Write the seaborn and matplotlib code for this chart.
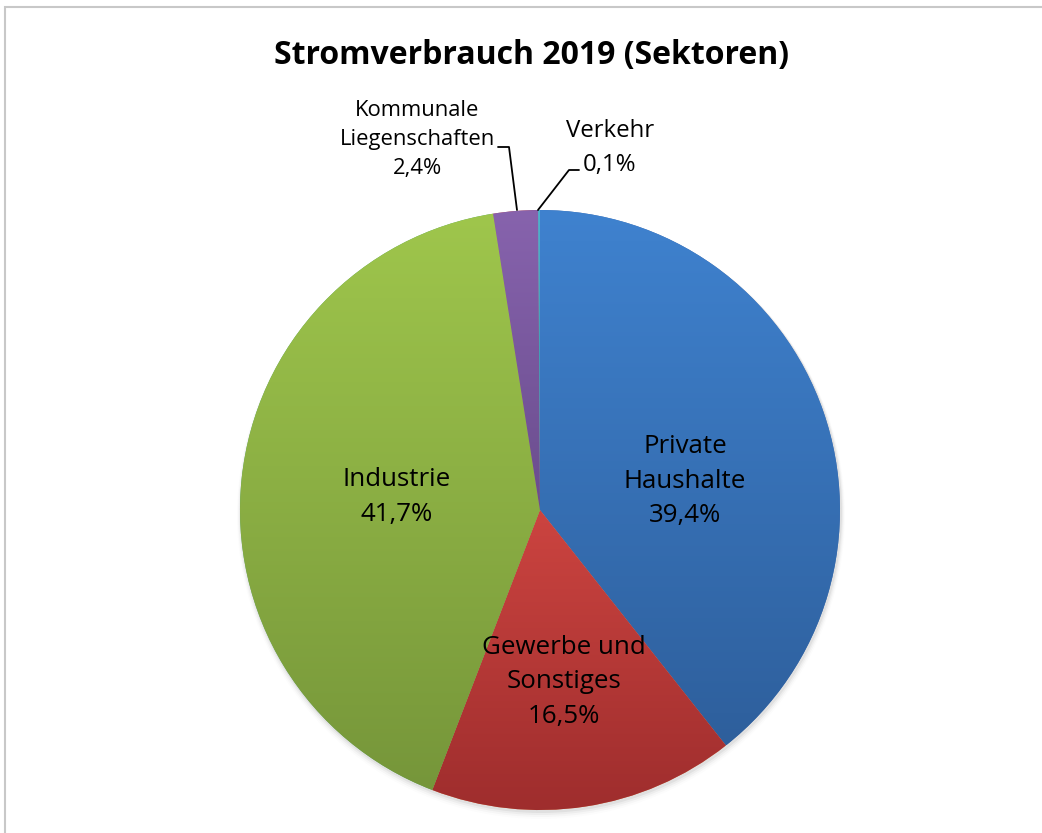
import numpy as np
import matplotlib
matplotlib.use("Agg")
import matplotlib.pyplot as plt
import matplotlib.colors as mcolors
from matplotlib.patches import Rectangle
import seaborn as sns

# ---- data ----
categories = ["Private\nHaushalte", "Gewerbe und\nSonstiges", "Industrie", "Kommunale\nLiegenschaften", "Verkehr"]
values = [39.4, 16.5, 41.7, 2.4, 0.1]
value_labels = ["39,4%", "16,5%", "41,7%", "2,4%", "0,1%"]
title = "Stromverbrauch 2019 (Sektoren)"

sns.set_theme(style="white")
plt.rcParams['font.family'] = ['Open Sans', 'DejaVu Sans']

top_colors = ["#3f82cf", "#cc4440", "#9fc64c", "#8763ad", "#4bb3cc"]
bot_colors = ["#2e5f9c", "#9e2d2d", "#76963a", "#6a4d8e", "#3a8aa0"]

W, H = 1042, 833
fig = plt.figure(figsize=(W / 100, H / 100), dpi=100)
ax = fig.add_axes([0, 0, 1, 1])
ax.set_xlim(0, W)
ax.set_ylim(0, H)
ax.set_aspect("equal")
ax.axis("off")

cx, cy, r = 540, H - 510, 300

# subtle shadow
for i, a in enumerate(np.linspace(0.05, 0.01, 4)):
    circ = plt.Circle((cx + 1, cy - 2 - i), r + 1 + i, color="black", alpha=a, lw=0, zorder=1)
    ax.add_patch(circ)

wedges, _ = ax.pie(values, startangle=90, counterclock=False, center=(cx, cy),
                   radius=r, wedgeprops=dict(linewidth=0), frame=True)
ax.set_xlim(0, W)
ax.set_ylim(0, H)
ax.axis("off")

for w, tc, bc in zip(wedges, top_colors, bot_colors):
    w.set_zorder(2)
    verts = w.get_path().transformed(w.get_patch_transform()).vertices
    x0, x1 = verts[:, 0].min(), verts[:, 0].max()
    y0, y1 = verts[:, 1].min(), verts[:, 1].max()
    cmap = mcolors.LinearSegmentedColormap.from_list("g", [bc, tc])
    grad = np.linspace(0, 1, 256).reshape(-1, 1)
    im = ax.imshow(grad, extent=[x0, x1, y0, y1], origin="lower", cmap=cmap,
                   aspect="auto", zorder=3, interpolation="bicubic")
    im.set_clip_path(w)
ax.set_xlim(0, W)
ax.set_ylim(0, H)

# frame
ax.add_patch(Rectangle((5, -10), W + 20, H - 7 + 10, fill=False, ec="#c8c8c8", lw=1.5, zorder=0))

# title
ax.text(532, H - 55, title, ha="center", va="center", fontsize=23, fontweight="bold", color="black")

# inside labels
inside = {0: (685, H - 481), 1: (564, H - 682), 2: (397, H - 497)}
for i, (x, y) in inside.items():
    ax.text(x, y, categories[i] + "\n" + value_labels[i], ha="center", va="center",
            fontsize=18.6, color="black", linespacing=1.52, zorder=5)

# outside labels
ax.text(417, H - 139, categories[3] + "\n" + value_labels[3], ha="center", va="center",
        fontsize=15.8, color="black", linespacing=1.5, zorder=5)
ax.text(610, H - 148, categories[4] + "\n" + value_labels[4], ha="center", va="center",
        fontsize=17.3, color="black", linespacing=1.55, zorder=5)

# leader lines
ax.plot([498, 509, 517], [H - 147, H - 147, H - 210], color="black", lw=1.3, zorder=5)
ax.plot([579, 569, 538], [H - 170, H - 170, H - 210], color="black", lw=1.3, zorder=5)

fig.savefig("out.png", dpi=100)
